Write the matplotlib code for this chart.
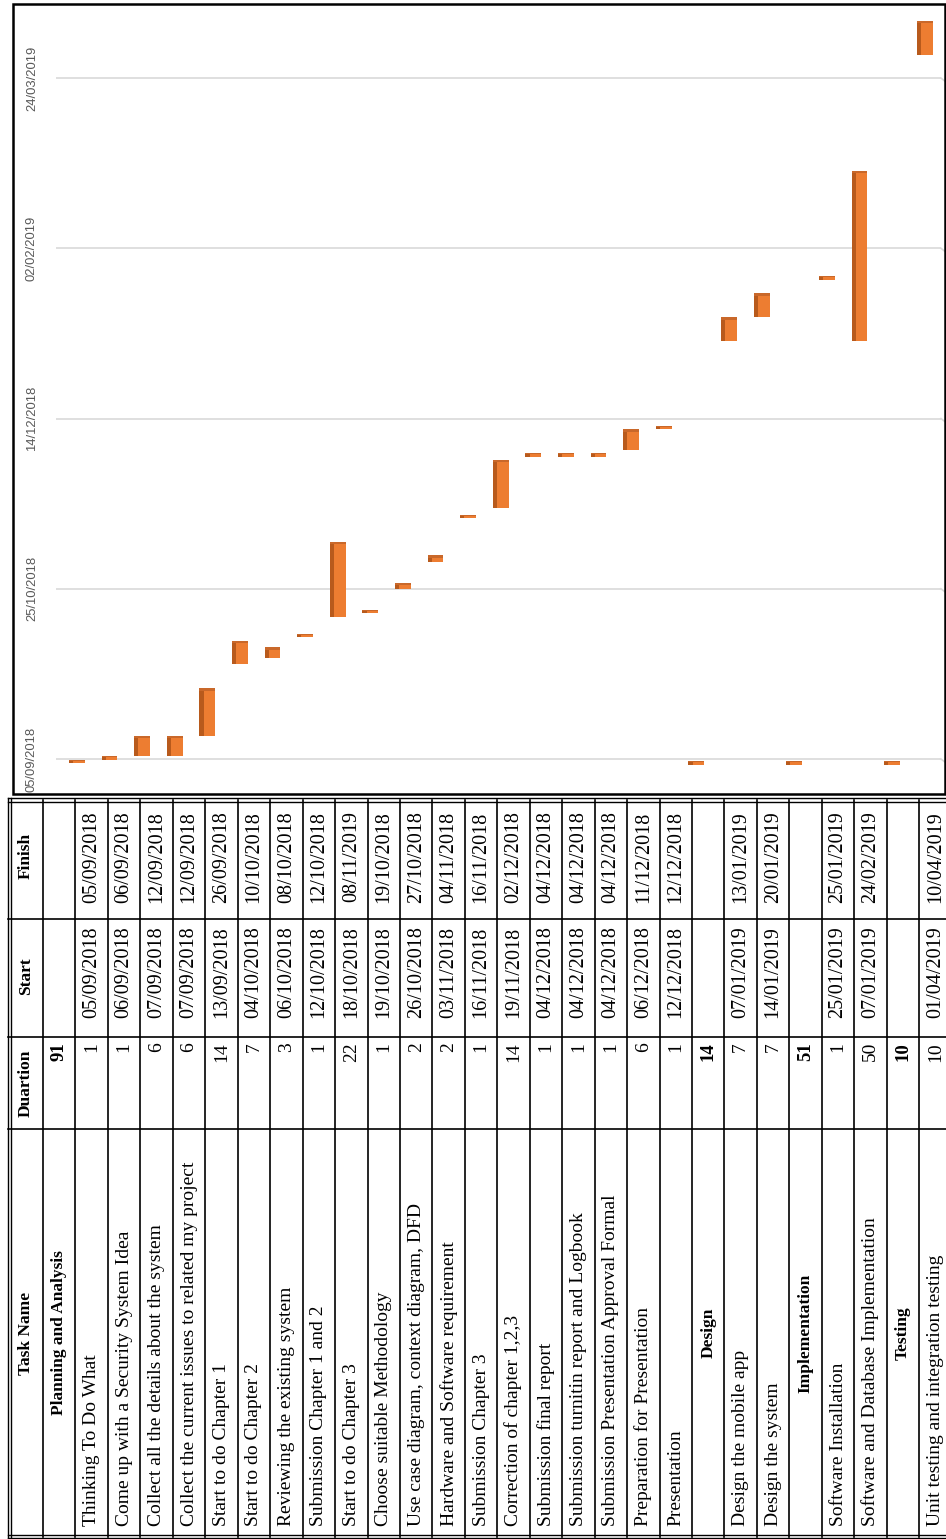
import matplotlib
matplotlib.use("Agg")
import matplotlib.pyplot as plt
import matplotlib.dates as mdates
from matplotlib.patches import Rectangle
from datetime import datetime
import numpy as np

# ---------------- data ----------------
task_names = [
    "Planning and Analysis",
    "Thinking To Do What",
    "Come up with a Security System Idea",
    "Collect all the details about the system",
    "Collect the current issues to related my project",
    "Start to do Chapter 1",
    "Start to do Chapter 2",
    "Reviewing the existing system",
    "Submission Chapter 1 and 2",
    "Start to do Chapter 3",
    "Choose suitable Methodology",
    "Use case diagram, context diagram, DFD",
    "Hardware and Software requirement",
    "Submission Chapter 3",
    "Correction of chapter 1,2,3",
    "Submission final report",
    "Submission turnitin report and Logbook",
    "Submission Presentation Approval Formal",
    "Preparation for Presentation",
    "Presentation",
    "Design",
    "Design the mobile app",
    "Design the system",
    "Implementation",
    "Software Installation",
    "Software and Database Implementation",
    "Testing",
    "Unit testing and integration testing",
]
group_rows = ["Planning and Analysis", "Design", "Implementation", "Testing"]
durations = [91, 1, 1, 6, 6, 14, 7, 3, 1, 22, 1, 2, 2, 1, 14, 1, 1, 1, 6, 1,
             14, 7, 7, 51, 1, 50, 10, 10]
start_dates = ["", "05/09/2018", "06/09/2018", "07/09/2018", "07/09/2018",
               "13/09/2018", "04/10/2018", "06/10/2018", "12/10/2018",
               "18/10/2018", "19/10/2018", "26/10/2018", "03/11/2018",
               "16/11/2018", "19/11/2018", "04/12/2018", "04/12/2018",
               "04/12/2018", "06/12/2018", "12/12/2018", "", "07/01/2019",
               "14/01/2019", "", "25/01/2019", "07/01/2019", "", "01/04/2019"]
finish_dates = ["", "05/09/2018", "06/09/2018", "12/09/2018", "12/09/2018",
                "26/09/2018", "10/10/2018", "08/10/2018", "12/10/2018",
                "08/11/2019", "19/10/2018", "27/10/2018", "04/11/2018",
                "16/11/2018", "02/12/2018", "04/12/2018", "04/12/2018",
                "04/12/2018", "11/12/2018", "12/12/2018", "", "13/01/2019",
                "20/01/2019", "", "25/01/2019", "24/02/2019", "", "10/04/2019"]
header_labels = ["Task Name", "Duartion", "Start", "Finish"]
axis_ticks = ["05/09/2018", "25/10/2018", "14/12/2018", "02/02/2019", "24/03/2019"]

FMT = "%d/%m/%Y"
def dnum(s):
    return mdates.date2num(datetime.strptime(s, FMT))

# ---------------- figure ----------------
W, H = 946, 1539
fig = plt.figure(figsize=(W / 100, H / 100), dpi=100)
fig.patch.set_facecolor("white")

def px_axes(x0, y0, x1, y1):
    return fig.add_axes([x0 / W, 1 - y1 / H, (x1 - x0) / W, (y1 - y0) / H])

# ---------------- chart ----------------
ax = px_axes(56, 8, 941, 768)
ax.set_facecolor("none")
for sp in ax.spines.values():
    sp.set_visible(False)

chart_names = task_names[1:]
chart_starts = start_dates[1:]
chart_durs = durations[1:]
base = dnum(axis_ticks[0])
xs = np.arange(len(chart_names))

DEPTH = 1.2       # 3D perspective drop (days)
STUB_DROP = 1.8   # visible base of bars with no start date
STUB_H = 1.3
bottoms, heights = [], []
for s, d in zip(chart_starts, chart_durs):
    if s:
        bottoms.append(dnum(s) - DEPTH)
        heights.append(d)
    else:
        bottoms.append(base - STUB_DROP)
        heights.append(STUB_H)
bottoms = np.array(bottoms)
heights = np.array(heights, dtype=float)

ax.bar(xs - 0.245, heights, width=0.125, bottom=bottoms, align="edge",
       color="#B85A1C", edgecolor="none", zorder=3)
ax.bar(xs - 0.12, heights, width=0.36, bottom=bottoms, align="edge",
       color="#ED7D31", edgecolor="none", zorder=3)
cap = np.minimum(0.7, heights * 0.35)
ax.bar(xs - 0.245, cap, width=0.485, bottom=bottoms + heights - cap, align="edge",
       color="#C9682A", edgecolor="none", zorder=4)

XMIN, XMAX = -0.644, 26.5
ax.set_xlim(XMIN, XMAX)
ax.set_ylim(base - 2.64, base + 220.6)
tick_vals = [dnum(t) for t in axis_ticks]
ax.set_yticks(tick_vals)
ax.set_yticklabels(axis_ticks, rotation=90, va="center", fontsize=9.4,
                   color="#595959",
                   family=["Liberation Sans", "DejaVu Sans"])
ax.tick_params(axis="y", length=0, pad=13)
ax.tick_params(axis="x", bottom=False, labelbottom=False)
ax.grid(axis="y", color="#D9D9D9", linewidth=1.2)
ax.set_axisbelow(True)
# 3D floor/back-wall bend of the gridlines at the right edge
for tv in tick_vals:
    ax.plot([XMAX, XMAX + 0.3], [tv, tv - 2.2], color="#D9D9D9", lw=1.2,
            clip_on=False, zorder=1)

# ---------------- table / frames ----------------
tax = fig.add_axes([0, 0, 1, 1])
tax.set_xlim(0, W)
tax.set_ylim(H, 0)
tax.axis("off")
tax.patch.set_visible(False)

# chart frame
tax.add_patch(Rectangle((13, 4), 932, 790, fill=False, ec="black", lw=1.8))

SERIF = ["Liberation Serif", "DejaVu Serif"]
T_TOP, C_FS, C_SD, C_DT, T_BOT = 800, 919, 1037, 1129, 1537
L0, HDR_R, ROW_W = 8, 43, 32.45
nrows = len(task_names)

lw_in = 1.2
# outer double border
for x in (8, 11):
    tax.plot([x, x], [798, 1538], color="black", lw=1.0)
for y in (798, 801.5, 1534.5, 1538):
    tax.plot([8, W], [y, y], color="black", lw=1.0)
# column dividers (constant y)
for y in (C_FS, C_SD, C_DT):
    tax.plot([8, W], [y, y], color="black", lw=lw_in)
# row dividers (constant x)
for k in range(nrows + 1):
    x = HDR_R + ROW_W * k
    if x <= W:
        tax.plot([x, x], [T_TOP, T_BOT], color="black", lw=lw_in)

# header texts
hx = 26
hdr_y = [1333, 1083, 976, 856]
for lab, y in zip(header_labels, hdr_y):
    tax.text(hx, y, lab, rotation=90, rotation_mode="anchor", ha="center",
             va="center", fontsize=12.5, fontweight="bold", family=SERIF)

# rows
for k in range(nrows):
    xc = HDR_R + ROW_W * (k + 0.5)
    name = task_names[k]
    is_group = name in group_rows
    if is_group:
        tax.text(xc, 1333, name, rotation=90, rotation_mode="anchor",
                 ha="center", va="center", fontsize=12.5, fontweight="bold",
                 family=SERIF)
        tax.text(xc, 1042, str(durations[k]), rotation=90, rotation_mode="anchor",
                 ha="right", va="center", fontsize=13.5, fontweight="bold",
                 family=SERIF)
    else:
        tax.text(xc, 1526, name, rotation=90, rotation_mode="anchor",
                 ha="left", va="center", fontsize=14, family=SERIF)
        tax.text(xc, 1042, str(durations[k]), rotation=90, rotation_mode="anchor",
                 ha="right", va="center", fontsize=14, family=SERIF)
    if start_dates[k]:
        tax.text(xc, 972, start_dates[k], rotation=90, rotation_mode="anchor",
                 ha="center", va="center", fontsize=14.5, family=SERIF)
    if finish_dates[k]:
        tax.text(xc, 857, finish_dates[k], rotation=90, rotation_mode="anchor",
                 ha="center", va="center", fontsize=14.5, family=SERIF)

fig.savefig("out.png", dpi=100, facecolor="white")
